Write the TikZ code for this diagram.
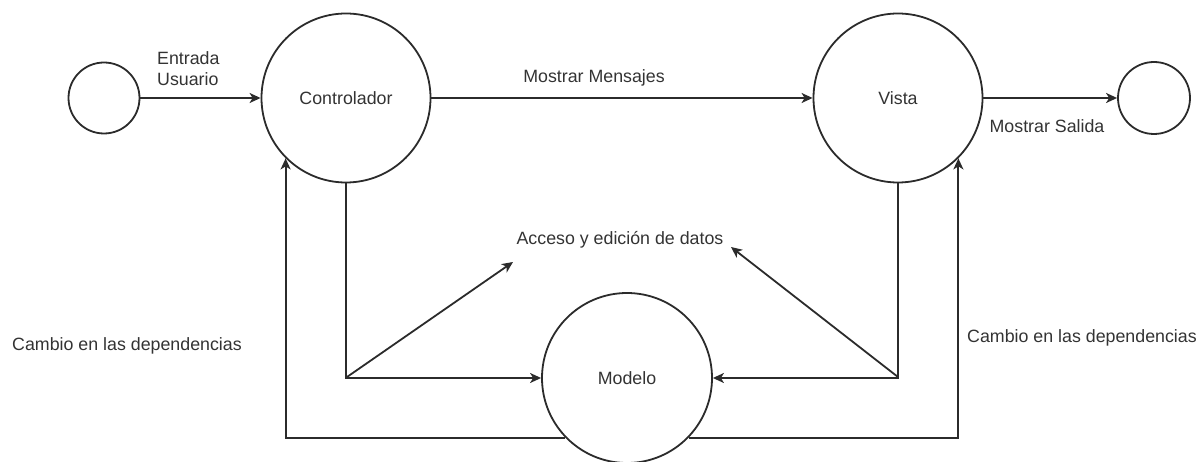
\documentclass[tikz,border=0pt]{standalone}
\usepackage{fontspec}
\setmainfont{Liberation Sans}
\usetikzlibrary{arrows.meta}
\definecolor{ink}{HTML}{2B2B2B}
\definecolor{txt}{HTML}{333333}
\begin{document}
\begin{tikzpicture}[x=1pt,y=-1pt,
  font=\fontsize{17.8}{21}\selectfont,
  state/.style={circle,draw=ink,line width=1.8pt,fill=white,inner sep=0pt,text=txt},
  lbl/.style={text=txt,inner sep=0pt},
  link/.style={draw=ink,line width=1.8pt},
  flow/.style={link,-{Stealth[length=11pt,width=10pt,inset=3pt]}}]
\useasboundingbox (0,0) rectangle (1203,462);

% states
\node[state,minimum size=71pt] (entrada) at (104,98) {};
\node[state,minimum size=169pt] (ctrl) at (346,98) {Controlador};
\node[state,minimum size=169pt] (vista) at (898,98) {Vista};
\node[state,minimum size=72pt] (salida) at (1154,98) {};
\node[state,minimum size=170pt] (modelo) at (627,378) {Modelo};

% labels
\node[lbl,anchor=west,align=left] (lEntrada) at (157,69) {Entrada\\Usuario};
\node[lbl] (lMensajes) at (594,78) {Mostrar Mensajes};
\node[lbl] (lSalida) at (1047,126) {Mostrar Salida};
\node[lbl] (lAcceso) at (620,240) {Acceso y edición de datos};
\node[lbl] (lCambioL) at (127,346) {Cambio en las dependencias};
\node[lbl] (lCambioR) at (1082,338) {Cambio en las dependencias};

% junctions and free ends
\coordinate (jL) at (347,377);
\coordinate (jR) at (898,377);
\coordinate (accL) at (513,262);
\coordinate (accR) at (731,247);

% main flow
\draw[flow] (entrada.east) -- (ctrl.west);
\draw[flow] (ctrl.east) -- (vista.west);
\draw[flow] (vista.east) -- (salida.west);

% access to the model
\draw[flow] (ctrl.south) |- (modelo.west);
\draw[flow] (vista.south) |- (modelo.east);
\draw[flow] (jL) -- (accL);
\draw[flow] (jR) -- (accR);

% dependency changes back to controller and view
\draw[flow] (modelo.224) -| (ctrl.225);
\draw[flow] (modelo.316) -| (vista.315);
\end{tikzpicture}
\end{document}
